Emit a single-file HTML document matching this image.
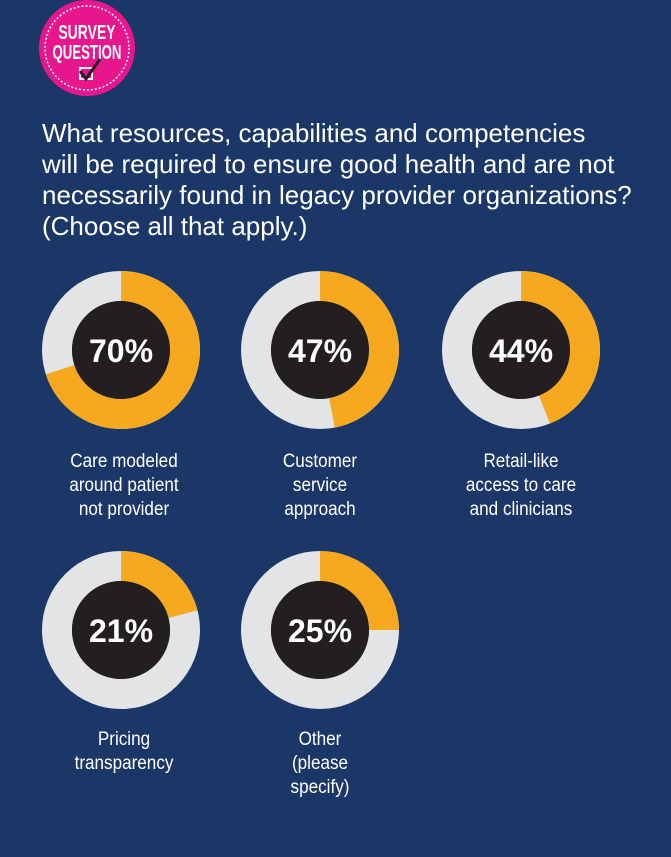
<!DOCTYPE html>
<html><head><meta charset="utf-8"><style>
html,body{margin:0;padding:0}
body{width:671px;height:857px;background:#1b3768;overflow:hidden;position:relative;font-family:"Liberation Sans",sans-serif}
.q{position:absolute;left:42px;top:118px;color:#fff;font-size:26px;line-height:31px;white-space:nowrap}
.lab{position:absolute;width:200px;text-align:center;color:#fff;font-size:19px;line-height:24px;transform:scaleX(0.9)}
</style></head><body>
<svg width="671" height="857" style="position:absolute;left:0;top:0">
<g>
<circle cx="87" cy="48" r="48" fill="#e8168c"/>
<circle cx="87" cy="48" r="42" fill="none" stroke="#fff" stroke-width="1.5" stroke-dasharray="2 2"/>
<text x="87" y="39" text-anchor="middle" fill="#fff" font-family="Liberation Sans" font-weight="bold" font-size="20" transform="translate(87 0) scale(0.7 1) translate(-87 0)">SURVEY</text>
<text x="87" y="59" text-anchor="middle" fill="#fff" font-family="Liberation Sans" font-weight="bold" font-size="20" transform="translate(87 0) scale(0.66 1) translate(-87 0)">QUESTION</text>
<rect x="79" y="67" width="14" height="13" fill="#fff"/>
<rect x="81" y="69" width="10" height="9" fill="#e8168c"/>
<path d="M80 71 L86 79 L100 59" fill="none" stroke="#231f20" stroke-width="3"/>
</g>
<g>
<circle cx="121" cy="350" r="64" fill="none" stroke="#e3e4e6" stroke-width="30"/>
<circle cx="121" cy="350" r="64" fill="none" stroke="#f6a81f" stroke-width="30" stroke-dasharray="281.5 500" transform="rotate(-90 121 350)"/>
<circle cx="121" cy="350" r="49" fill="#231f20"/>
<circle cx="320" cy="350" r="64" fill="none" stroke="#e3e4e6" stroke-width="30"/>
<circle cx="320" cy="350" r="64" fill="none" stroke="#f6a81f" stroke-width="30" stroke-dasharray="189 500" transform="rotate(-90 320 350)"/>
<circle cx="320" cy="350" r="49" fill="#231f20"/>
<circle cx="521" cy="350" r="64" fill="none" stroke="#e3e4e6" stroke-width="30"/>
<circle cx="521" cy="350" r="64" fill="none" stroke="#f6a81f" stroke-width="30" stroke-dasharray="177 500" transform="rotate(-90 521 350)"/>
<circle cx="521" cy="350" r="49" fill="#231f20"/>
<circle cx="121" cy="630" r="64" fill="none" stroke="#e3e4e6" stroke-width="30"/>
<circle cx="121" cy="630" r="64" fill="none" stroke="#f6a81f" stroke-width="30" stroke-dasharray="84.4 500" transform="rotate(-90 121 630)"/>
<circle cx="121" cy="630" r="49" fill="#231f20"/>
<circle cx="320" cy="630" r="64" fill="none" stroke="#e3e4e6" stroke-width="30"/>
<circle cx="320" cy="630" r="64" fill="none" stroke="#f6a81f" stroke-width="30" stroke-dasharray="100.5 500" transform="rotate(-90 320 630)"/>
<circle cx="320" cy="630" r="49" fill="#231f20"/>
</g>
<g fill="#fff" font-family="Liberation Sans" font-weight="bold" font-size="32" text-anchor="middle">
<text x="121" y="362">70%</text>
<text x="320" y="362">47%</text>
<text x="521" y="362">44%</text>
<text x="121" y="642">21%</text>
<text x="320" y="642">25%</text>
</g>
</svg>
<div class="q">What resources, capabilities and competencies<br>will be required to ensure good health and are not<br>necessarily found in legacy provider organizations?<br>(Choose all that apply.)</div>
<div class="lab" style="left:24px;top:450px">Care modeled<br>around patient<br>not provider</div>
<div class="lab" style="left:220px;top:450px">Customer<br>service<br>approach</div>
<div class="lab" style="left:421px;top:450px">Retail-like<br>access to care<br>and clinicians</div>
<div class="lab" style="left:24px;top:728px">Pricing<br>transparency</div>
<div class="lab" style="left:220px;top:728px">Other<br>(please<br>specify)</div>
</body></html>
